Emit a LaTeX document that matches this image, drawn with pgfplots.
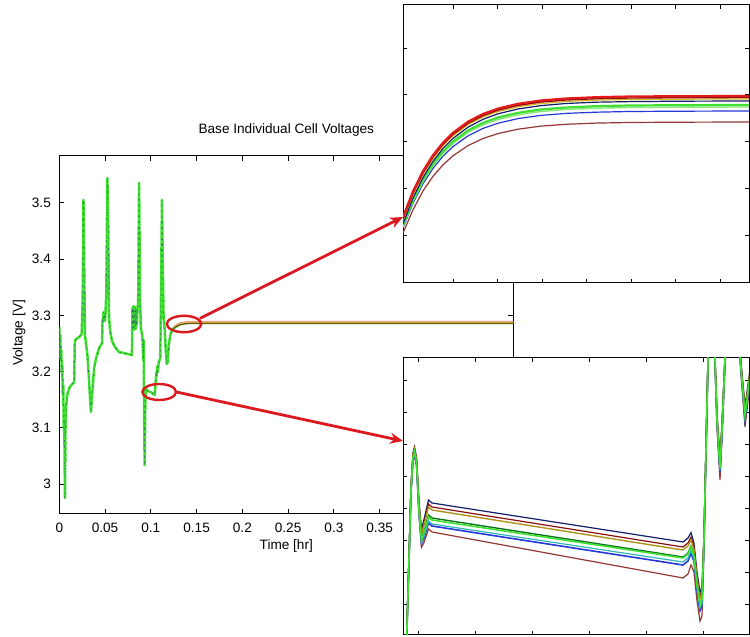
\documentclass[border=0pt]{standalone}
\usepackage{fontspec}
\setmainfont{Liberation Sans}
\usepackage{pgfplots}
\usepackage{pgfplotstable}
\pgfplotsset{compat=1.18}
\usetikzlibrary{arrows.meta}

\definecolor{cgreen}{rgb}{0.25,0.88,0.20}
\definecolor{cnavy}{rgb}{0.08,0.12,0.42}
\definecolor{cred}{rgb}{0.90,0.10,0.10}
\definecolor{cmaroon}{rgb}{0.55,0.06,0.06}
\definecolor{cyellow}{rgb}{0.85,0.72,0.12}
\definecolor{colive}{rgb}{0.38,0.36,0.10}
\definecolor{cltgreen}{rgb}{0.55,0.90,0.50}
\definecolor{cdkgreen}{rgb}{0.05,0.45,0.12}
\definecolor{cblue}{rgb}{0.15,0.22,0.85}
\definecolor{ccyan}{rgb}{0.20,0.72,0.72}
\definecolor{cbrown}{rgb}{0.58,0.22,0.20}
\definecolor{annred}{rgb}{0.86,0.10,0.12}

% pack voltage trace (time in hours, voltage in volts)
\pgfplotstableread{
t v
0 3.2794
0.00054 3.2473
0.00109 3.2651
0.00163 3.2206
0.00217 3.2384
0.00272 3.1993
0.00326 3.2117
0.00380 3.1584
0.00435 3.1762
0.00489 3.0961
0.00543 3.1139
0.00620 2.9751
0.00685 3.1139
0.00761 3.1406
0.00870 3.1584
0.01087 3.1708
0.01304 3.1762
0.01630 3.1815
0.01685 3.2473
0.01739 3.2562
0.01957 3.2598
0.02174 3.2616
0.02446 3.2669
0.02554 3.3274
0.02641 3.5054
0.02717 3.3950
0.02804 3.2651
0.02935 3.2473
0.03043 3.2349
0.03152 3.2117
0.03261 3.1815
0.03370 3.1495
0.03457 3.1281
0.03587 3.1584
0.03804 3.2064
0.04022 3.2242
0.04348 3.2420
0.04674 3.2509
0.04728 3.2954
0.04783 3.2883
0.04837 3.3061
0.04891 3.2918
0.04946 3.3025
0.05000 3.2900
0.05054 3.3061
0.05141 3.3452
0.05250 3.5445
0.05348 3.4609
0.05435 3.2954
0.05543 3.2740
0.05761 3.2545
0.06087 3.2438
0.06522 3.2349
0.07065 3.2331
0.07500 3.2313
0.07935 3.2295
0.07989 3.3132
0.08043 3.2776
0.08098 3.3167
0.08152 3.2740
0.08207 3.3096
0.08261 3.2811
0.08315 3.3150
0.08370 3.2758
0.08424 3.3114
0.08478 3.2829
0.08533 3.3061
0.08620 3.3274
0.08717 3.5356
0.08826 3.3274
0.08913 3.2776
0.09076 3.2634
0.09163 3.2206
0.09217 3.2562
0.09272 3.1139
0.09326 3.0338
0.09402 3.1495
0.09457 3.1708
0.09674 3.1655
0.10000 3.1637
0.10435 3.1584
0.10543 3.1851
0.10598 3.1993
0.10652 3.1922
0.10707 3.2100
0.10761 3.1993
0.10870 3.2171
0.11033 3.2242
0.11120 3.3452
0.11217 3.5054
0.11304 3.3950
0.11391 3.2954
0.11522 3.2740
0.11630 3.2384
0.11739 3.2135
0.11848 3.2171
0.11957 3.2473
0.12174 3.2687
0.12500 3.2776
0.12826 3.2811
0.13261 3.2847
0.13804 3.2865
}\maintrace

% rest period: the cells settle at slightly different voltages
\pgfplotstableread{
t r y o
0.1250 3.2790 3.2778 3.2766
0.1283 3.2830 3.2818 3.2806
0.1326 3.2862 3.2850 3.2838
0.1380 3.2877 3.2865 3.2853
0.1500 3.2882 3.2870 3.2858
0.4960 3.2882 3.2870 3.2858
}\resttrace

% detail: relaxation after the last pulse
\pgfplotstableread{
x r m y n g l b w
0.1200 3.27480 3.27460 3.27450 3.27410 3.27400 3.27380 3.27370 3.27320
0.1210 3.27736 3.27718 3.27706 3.27671 3.27654 3.27634 3.27618 3.27552
0.1220 3.27939 3.27920 3.27909 3.27876 3.27855 3.27835 3.27813 3.27741
0.1230 3.28098 3.28080 3.28068 3.28038 3.28013 3.27993 3.27967 3.27887
0.1240 3.28223 3.28206 3.28193 3.28166 3.28137 3.28117 3.28089 3.28002
0.1250 3.28322 3.28306 3.28292 3.28266 3.28235 3.28215 3.28184 3.28092
0.1265 3.28433 3.28417 3.28403 3.28378 3.28345 3.28325 3.28291 3.28194
0.1280 3.28510 3.28494 3.28480 3.28457 3.28421 3.28401 3.28366 3.28265
0.1295 3.28564 3.28548 3.28534 3.28512 3.28475 3.28455 3.28418 3.28314
0.1315 3.28612 3.28596 3.28582 3.28560 3.28522 3.28502 3.28464 3.28358
0.1338 3.28645 3.28630 3.28615 3.28594 3.28555 3.28535 3.28496 3.28389
0.1363 3.28665 3.28650 3.28635 3.28615 3.28575 3.28555 3.28516 3.28407
0.1393 3.28678 3.28663 3.28648 3.28628 3.28588 3.28568 3.28528 3.28419
0.1427 3.28685 3.28670 3.28655 3.28634 3.28595 3.28575 3.28535 3.28425
0.1477 3.28688 3.28673 3.28658 3.28638 3.28598 3.28578 3.28538 3.28428
0.1546 3.28690 3.28675 3.28660 3.28640 3.28600 3.28580 3.28540 3.28430
}\relaxdetail

% detail: low plateau between pulses
\pgfplotstableread{
x n m o d g c b w
0.09338 3.14851 3.14839 3.14830 3.14806 3.14800 3.14788 3.14782 3.14764
0.09350 3.15851 3.15839 3.15830 3.15806 3.15800 3.15788 3.15782 3.15764
0.09358 3.16551 3.16539 3.16530 3.16506 3.16500 3.16488 3.16482 3.16464
0.09366 3.16871 3.16859 3.16850 3.16826 3.16820 3.16808 3.16802 3.16784
0.09372 3.16931 3.16919 3.16910 3.16886 3.16880 3.16868 3.16862 3.16844
0.09380 3.16831 3.16819 3.16810 3.16786 3.16780 3.16768 3.16762 3.16744
0.09390 3.16385 3.16365 3.16350 3.16310 3.16300 3.16280 3.16270 3.16240
0.09400 3.16102 3.16078 3.16060 3.16012 3.16000 3.15976 3.15964 3.15928
0.09410 3.16206 3.16174 3.16150 3.16086 3.16070 3.16038 3.16022 3.15974
0.09428 3.16400 3.16360 3.16330 3.16250 3.16230 3.16190 3.16170 3.16110
0.09442 3.16370 3.16330 3.16300 3.16220 3.16200 3.16160 3.16140 3.16080
0.09634 3.16295 3.16253 3.16223 3.16145 3.16127 3.16087 3.16065 3.15992
0.09954 3.16171 3.16126 3.16096 3.16021 3.16006 3.15966 3.15941 3.15845
0.10274 3.16047 3.15998 3.15968 3.15897 3.15885 3.15845 3.15817 3.15699
0.10446 3.15980 3.15930 3.15900 3.15830 3.15820 3.15780 3.15750 3.15620
0.10466 3.16020 3.15970 3.15940 3.15870 3.15860 3.15820 3.15790 3.15660
0.10478 3.16074 3.16029 3.16002 3.15939 3.15930 3.15894 3.15867 3.15750
0.10490 3.15968 3.15928 3.15904 3.15848 3.15840 3.15808 3.15784 3.15680
0.10502 3.15678 3.15638 3.15614 3.15558 3.15550 3.15518 3.15494 3.15390
0.10514 3.15478 3.15438 3.15414 3.15358 3.15350 3.15318 3.15294 3.15190
0.10522 3.15528 3.15488 3.15464 3.15408 3.15400 3.15368 3.15344 3.15240
0.10530 3.16080 3.16055 3.16040 3.16005 3.16000 3.15980 3.15965 3.15900
0.10538 3.16948 3.16933 3.16924 3.16903 3.16900 3.16888 3.16879 3.16840
0.10546 3.17832 3.17822 3.17816 3.17802 3.17800 3.17792 3.17786 3.17760
0.10554 3.18432 3.18422 3.18416 3.18402 3.18400 3.18392 3.18386 3.18360
0.10570 3.18132 3.18122 3.18116 3.18102 3.18100 3.18092 3.18086 3.18060
0.10582 3.17264 3.17244 3.17232 3.17204 3.17200 3.17184 3.17172 3.17120
0.10594 3.16816 3.16786 3.16768 3.16726 3.16720 3.16696 3.16678 3.16600
0.10602 3.17180 3.17155 3.17140 3.17105 3.17100 3.17080 3.17065 3.17000
0.10614 3.17848 3.17833 3.17824 3.17803 3.17800 3.17788 3.17779 3.17740
0.10626 3.18232 3.18222 3.18216 3.18202 3.18200 3.18192 3.18186 3.18160
0.10666 3.18132 3.18122 3.18116 3.18102 3.18100 3.18092 3.18086 3.18060
0.10682 3.17664 3.17644 3.17632 3.17604 3.17600 3.17584 3.17572 3.17520
0.10694 3.17346 3.17316 3.17298 3.17256 3.17250 3.17226 3.17208 3.17130
0.10702 3.17480 3.17455 3.17440 3.17405 3.17400 3.17380 3.17365 3.17300
0.10722 3.17848 3.17833 3.17824 3.17803 3.17800 3.17788 3.17779 3.17740
}\plateaudetail

\pgfplotsset{
  every axis/.append style={
    font=\fontsize{6.8}{8}\selectfont,
    tick label style={font=\fontsize{6.8}{8}\selectfont},
    /pgf/number format/assume math mode=true,
    axis line style={line width=0.5pt},
    tick style={line width=0.45pt, black},
    tick align=inside,
  },
  detail/.style={
    anchor=south west, scale only axis, width=173pt,
    axis background/.style={fill=white},
    xticklabels={}, yticklabels={},
    major tick length=2.2pt,
  },
}

\begin{document}
\begin{tikzpicture}
\path[use as bounding box] (0,0) rectangle (375pt,318.5pt);

\begin{axis}[
  anchor=south west, at={(29.65pt,61.5pt)},
  scale only axis, width=227pt, height=179.15pt,
  xmin=0, xmax=0.496, ymin=2.947, ymax=3.584,
  xtick={0,0.05,0.1,0.15,0.2,0.25,0.3,0.35,0.4,0.45},
  ytick={3,3.1,3.2,3.3,3.4,3.5},
  scaled x ticks=false,
  xticklabel style={/pgf/number format/fixed, /pgf/number format/precision=3, yshift=-1.2pt},
  yticklabel style={xshift=-0.7pt},
  major tick length=2.5pt,
  title={Base Individual Cell Voltages},
  title style={at={(0.5,1)}, anchor=south, yshift=1.4pt, inner sep=2pt},
  xlabel={Time [hr]},
  xlabel style={at={(0.5,0)}, anchor=north, yshift=-9.5pt},
]
\addplot[cgreen, line width=1.25pt, line join=round] table[x=t, y=v] {\maintrace};
\addplot[cnavy, line width=0.3pt, dash pattern=on 0.8pt off 2pt, opacity=0.6] table[x=t, y=v] {\maintrace};
\addplot[cred!45, line width=1.1pt] table[x=t, y=r] {\resttrace};
\addplot[cyellow, line width=0.7pt] table[x=t, y=y] {\resttrace};
\addplot[colive, line width=0.6pt] table[x=t, y=o] {\resttrace};
\end{axis}

\begin{axis}[
  detail, at={(201.5pt,177pt)}, height=139pt,
  xmin=0.12, xmax=0.1546, ymin=3.2682, ymax=3.2960,
  xtick={0.125,0.12945,0.1339,0.13835,0.1428,0.14725,0.1517},
  ytick={3.2683,3.27298,3.27766,3.28234,3.28702,3.2917},
]
\addplot[cbrown, line width=0.6pt] table[x=x, y=w] {\relaxdetail};
\addplot[cblue, line width=0.6pt] table[x=x, y=b] {\relaxdetail};
\addplot[cltgreen, line width=0.7pt] table[x=x, y=l] {\relaxdetail};
\addplot[cgreen, line width=1.1pt] table[x=x, y=g] {\relaxdetail};
\addplot[cnavy, line width=0.6pt] table[x=x, y=n] {\relaxdetail};
\addplot[cyellow, line width=0.6pt] table[x=x, y=y] {\relaxdetail};
\addplot[cmaroon, line width=0.7pt] table[x=x, y=m] {\relaxdetail};
\addplot[cred, line width=1.1pt] table[x=x, y=r] {\relaxdetail};
\end{axis}

\begin{axis}[
  detail, at={(201.5pt,1pt)}, height=138.5pt,
  xmin=0.09326, xmax=0.1071, ymin=3.1505, ymax=3.1782,
  xtick={0.09386,0.09614,0.09842,0.1007,0.10298,0.10526},
  ytick={3.1536,3.1568,3.16,3.1632,3.1664,3.1696,3.1728,3.176},
]
\addplot[cbrown, line width=0.6pt] table[x=x, y=w] {\plateaudetail};
\addplot[cblue, line width=0.8pt] table[x=x, y=b] {\plateaudetail};
\addplot[ccyan, line width=0.6pt] table[x=x, y=c] {\plateaudetail};
\addplot[cnavy, line width=0.6pt] table[x=x, y=n] {\plateaudetail};
\addplot[cmaroon, line width=0.6pt] table[x=x, y=m] {\plateaudetail};
\addplot[cyellow!80!black, line width=0.7pt] table[x=x, y=o] {\plateaudetail};
\addplot[cdkgreen, line width=0.7pt] table[x=x, y=d] {\plateaudetail};
\addplot[cgreen, line width=0.8pt] table[x=x, y=g] {\plateaudetail};
\end{axis}

% axis label on the left
\node[rotate=90, font=\fontsize{6.8}{8}\selectfont] at (9.5pt,152pt) {Voltage [V]};

% call-outs linking the zoomed regions
\draw[annred, line width=1.2pt] (92pt,156.5pt) ellipse [x radius=8.6pt, y radius=4.1pt];
\draw[annred, line width=1.2pt] (79.6pt,122.5pt) ellipse [x radius=8.4pt, y radius=4pt];
\draw[annred, line width=1.4pt, -{Stealth[length=6.5pt,width=5.5pt]}] (100pt,159.3pt) -- (201.5pt,210pt);
\draw[annred, line width=1.4pt, -{Stealth[length=6.5pt,width=5.5pt]}] (88.2pt,122.5pt) -- (201.5pt,98pt);
\end{tikzpicture}
\end{document}
